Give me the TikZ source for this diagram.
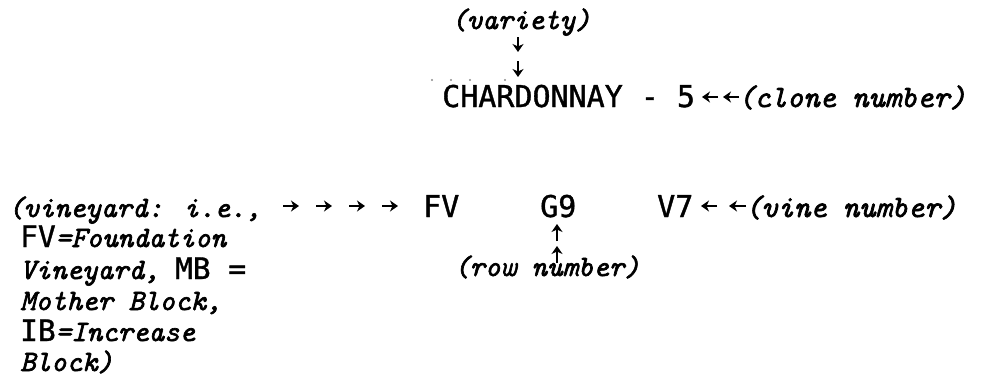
\documentclass[tikz,border=0pt]{standalone}
\usepackage{fontspec}
\newfontfamily\upfont[FakeBold=1.2]{DejaVu Sans Mono}
\newfontfamily\itfont{lmmono10-italic}[Extension=.otf, FakeBold=2.2]
\usetikzlibrary{arrows.meta}
\newcommand\uptxt[1]{{\upfont #1}}
\begin{document}
\begin{tikzpicture}[x=1pt,y=-1pt,
  it/.style={font=\fontsize{31}{32}\selectfont\itfont, inner sep=0pt, anchor=base west},
  itsm/.style={font=\fontsize{29.5}{32}\selectfont\itfont, inner sep=0pt, anchor=base west},
  up/.style={font=\fontsize{30}{32}\selectfont\upfont, inner sep=0pt, anchor=base west},
  arr/.style={line width=1.8pt, -{Stealth[length=8pt,width=11pt,inset=2.5pt]}},
  leader/.style={fill=black!45, draw=none}]
\useasboundingbox[fill=white] (0,0) rectangle (989,378);

% top: variety
\node[itsm, anchor=base] (var) at (521,29) {(variety)};
\coordinate (v1s) at (518,37);
\coordinate (v1e) at (518,52);
\coordinate (v2s) at (518,61);
\coordinate (v2e) at (518,77);
\draw[arr] (v1s) -- (v1e);
\draw[arr] (v2s) -- (v2e);
\foreach \x/\n in {432/d1,451/d2,470/d3,505/d4}
  \fill[leader] (\x,80) circle (1.1pt);

% chardonnay line
\node[up] (chard) at (442,107) {CHARDONNAY - 5};
\node[it] (clone) at (738,107) {(clone number)};
\coordinate (c1s) at (718,97);
\coordinate (c1e) at (702,97);
\coordinate (c2s) at (739,97);
\coordinate (c2e) at (723,97);
\draw[arr] (c1s) -- (c1e);
\draw[arr] (c2s) -- (c2e);

% second row
\node[itsm] (vin) at (8,217) {(vineyard: i.e.,};
\node[up] (fv) at (423,217) {FV};
\node[up] (g9) at (540,217) {G9};
\node[up] (v7) at (657,217) {V7};
\node[it] (vine) at (745,217) {(vine number)};
\foreach \x [count=\i] in {283,316,349,382}{
  \coordinate (r\i s) at (\x,206);
  \coordinate (r\i e) at (\x+16,206);
  \draw[arr] (r\i s) -- (r\i e);
}
\coordinate (l1s) at (717,206);
\coordinate (l1e) at (701,206);
\coordinate (l2s) at (746,206);
\coordinate (l2e) at (729,206);
\draw[arr] (l1s) -- (l1e);
\draw[arr] (l2s) -- (l2e);

% row number
\node[itsm, anchor=base] (row) at (547,276) {(row number)};
\coordinate (u1s) at (557,241);
\coordinate (u1e) at (557,224);
\coordinate (u2s) at (557,263);
\coordinate (u2e) at (557,246);
\draw[arr] (u1s) -- (u1e);
\draw[arr] (u2s) -- (u2e);

% left column
\node[itsm] (l2) at (20,247) {\uptxt{FV}=Foundation};
\node[itsm] (l3) at (20,279) {Vineyard, \uptxt{MB =}};
\node[itsm] (l4) at (20,310) {Mother Block,};
\node[itsm] (l5) at (20,341) {\uptxt{IB}=Increase};
\node[itsm] (l6) at (20,371) {Block)};
\end{tikzpicture}
\end{document}
